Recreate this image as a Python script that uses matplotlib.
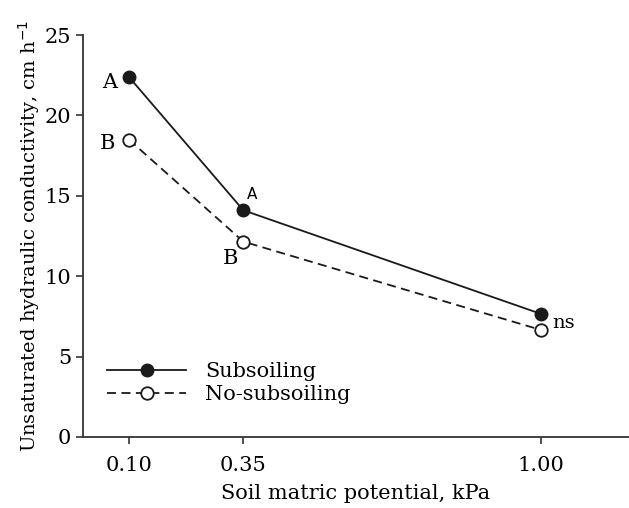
import numpy as np
import matplotlib
matplotlib.use("Agg")
from matplotlib import pylab as plt

potential = [0.10, 0.35, 1.00]
subsoiling = [22.4, 14.1, 7.65]
no_subsoiling = [18.5, 12.15, 6.65]
xtick_labels = ["0.10", "0.35", "1.00"]

plt.rcParams['font.family'] = ['DejaVu Serif']

fig = plt.figure(figsize=(6.29, 5.08), dpi=100)
ax = fig.add_axes([0.132, 0.14, 0.868, 0.791])

ax.plot(potential, subsoiling, '-', color='#1a1a1a', lw=1.3, marker='o', ms=9,
        mfc='#1a1a1a', mec='#1a1a1a', label='Subsoiling')
ax.plot(potential, no_subsoiling, '--', color='#1a1a1a', lw=1.3, marker='o', ms=9,
        mfc='white', mec='#1a1a1a', mew=1.3, label='No-subsoiling', dashes=(5, 3))

ax.set_xlim(0, 1.192)
ax.set_ylim(0, 25)
ax.set_xticks(potential)
ax.set_xticklabels(xtick_labels)
ax.set_yticks([0, 5, 10, 15, 20, 25])
ax.spines['top'].set_visible(False)
ax.spines['right'].set_visible(False)
ax.tick_params(axis='both', labelsize=15, direction='out', length=5, width=1.2, color='#333333')
ax.tick_params(axis='x', pad=9)
for s in ['left', 'bottom']:
    ax.spines[s].set_linewidth(1.3)
    ax.spines[s].set_color('#333333')

ax.set_xlabel('Soil matric potential, kPa', fontsize=15, labelpad=6)
ax.set_ylabel('Unsaturated hydraulic conductivity, cm h$^{-1}$', fontsize=14, labelpad=2)

# significance letters
ax.annotate('A', (potential[0], subsoiling[0]), xytext=(-14, -4), textcoords='offset points',
            fontsize=15, ha='center', va='center')
ax.annotate('B', (potential[0], no_subsoiling[0]), xytext=(-15, -3), textcoords='offset points',
            fontsize=15, ha='center', va='center')
ax.annotate('A', (potential[1], subsoiling[1]), xytext=(6, 11), textcoords='offset points',
            fontsize=11, ha='center', va='center', family='DejaVu Sans')
ax.annotate('B', (potential[1], no_subsoiling[1]), xytext=(-9, -12), textcoords='offset points',
            fontsize=15, ha='center', va='center')
ax.annotate('ns', (potential[2], no_subsoiling[2]), xytext=(16, 5), textcoords='offset points',
            fontsize=14, ha='center', va='center')

ax.legend(loc='lower left', bbox_to_anchor=(0.01, 0.035), frameon=False, fontsize=15,
          handlelength=3.8, handletextpad=0.9, labelspacing=0.2)

fig.savefig('out.png', dpi=100)
